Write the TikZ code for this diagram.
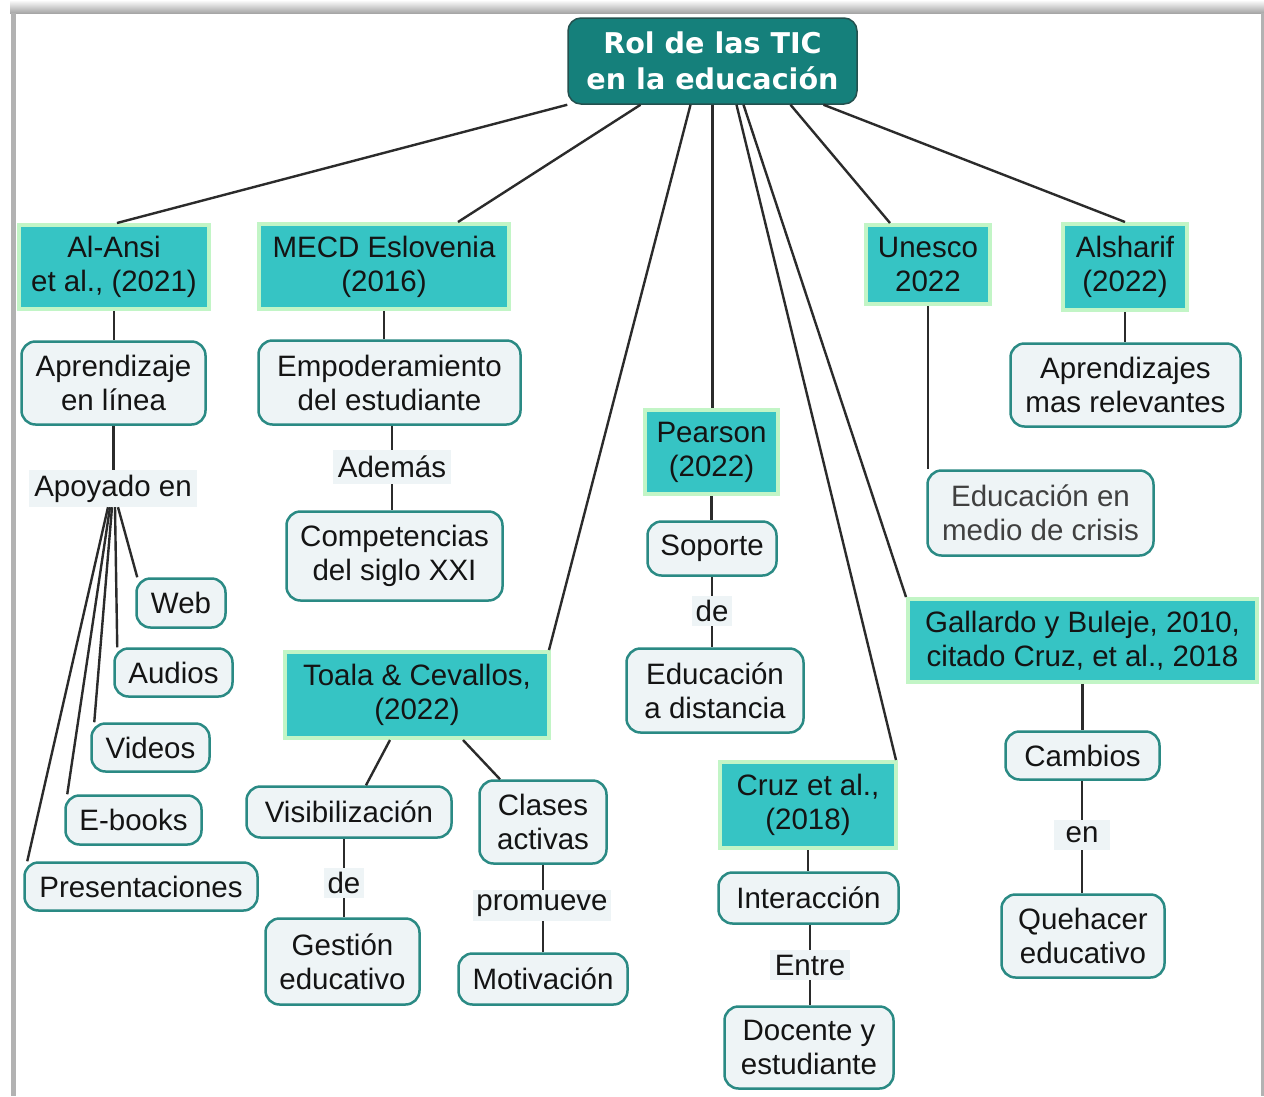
\documentclass[tikz,border=0pt]{standalone}
\usepackage{fontspec}
\setmainfont{Liberation Sans}
\newfontfamily\rootfont{DejaVu Sans}
\usetikzlibrary{calc}
\definecolor{rootfill}{HTML}{15807B}
\definecolor{rootdraw}{HTML}{24504E}
\definecolor{reffill}{HTML}{36C4C4}
\definecolor{refdraw}{HTML}{C2F5C6}
\definecolor{confill}{HTML}{EEF4F6}
\definecolor{condraw}{HTML}{2A8A84}
\definecolor{labfill}{HTML}{EEF4F6}
\definecolor{linec}{HTML}{2B2B2B}
\definecolor{txt}{HTML}{141414}
\newcommand{\fs}{\fontsize{29.5}{34}\selectfont}
\tikzset{
  sz/.style 2 args={minimum width=#1, minimum height=#2},
  refbox/.style={draw=refdraw, line width=4pt, fill=reffill, font=\fs, text=txt, align=center, inner sep=2pt},
  conbox/.style={draw=condraw, line width=2.5pt, fill=confill, rounded corners=14pt, font=\fs, text=txt, align=center, inner sep=2pt},
  labbox/.style={fill=labfill, font=\fs, text=txt, inner sep=3pt},
  ln/.style={draw=linec, line width=2.4pt},
}
\begin{document}
\begin{tikzpicture}[x=1pt, y=-1pt]
\useasboundingbox (0,0) rectangle (1264,1096);
\fill[white] (0,0) rectangle (1264,1096);
% frame
\shade[top color=white, bottom color=black!35] (10,0) rectangle (1264,13);
\fill[black!30] (11,13) rectangle (16,1096);
\fill[black!30] (1261,13) rectangle (1264,1096);

% root
\node[draw=rootdraw, line width=1.5pt, fill=rootfill, rounded corners=13pt, sz={289}{86}, text=white, align=center, font=\rootfont\bfseries\fontsize{28.6}{36}\selectfont, inner sep=2pt] (root) at (712.5,61) {Rol de las TIC\\en la educación};

% reference boxes
\node[refbox, sz={190}{84}] (alansi) at (114,267) {Al-Ansi\\et al., (2021)};
\node[refbox, sz={250}{85}] (mecd) at (384,266.5) {MECD Eslovenia\\(2016)};
\node[refbox, sz={124}{79}] (unesco) at (928,264.5) {Unesco\\2022};
\node[refbox, sz={124}{86}] (alsharif) at (1125,267) {Alsharif\\(2022)};
\node[refbox, sz={133}{84}] (pearson) at (711.5,452) {Pearson\\(2022)};
\node[refbox, sz={264}{86}] (toala) at (417,695) {Toala \& Cevallos,\\(2022)};
\node[refbox, sz={176}{86}] (cruz) at (808,805) {Cruz et al.,\\(2018)};
\node[refbox, sz={349}{83}] (gallardo) at (1082.5,640.5) {Gallardo y Buleje, 2010,\\citado Cruz, et al., 2018};

% concept boxes
\node[conbox, sz={184}{83}] (aprend) at (113.5,383) {Aprendizaje\\en línea};
\node[conbox, sz={262}{84}] (empod) at (389.5,382.5) {Empoderamiento\\del estudiante};
\node[conbox, sz={216}{89}] (compet) at (394.5,556) {Competencias\\del siglo XXI};
\node[conbox, sz={89}{49}] (web) at (181,603) {Web};
\node[conbox, sz={118}{48}] (audios) at (173.5,672.5) {Audios};
\node[conbox, sz={118}{48}] (videos) at (150.5,747.5) {Videos};
\node[conbox, sz={136}{49}] (ebooks) at (133.5,820) {E-books};
\node[conbox, sz={233}{48}] (present) at (141,886.5) {Presentaciones};
\node[conbox, sz={205}{51}] (visib) at (349,812) {Visibilización};
\node[conbox, sz={154}{86}] (gestion) at (342.5,961.5) {Gestión\\educativo};
\node[conbox, sz={127}{83}] (clases) at (543,822) {Clases\\activas};
\node[conbox, sz={169}{51}] (motiv) at (543,979) {Motivación};
\node[conbox, sz={129}{54}] (soporte) at (712,548.5) {Soporte};
\node[conbox, sz={177}{84}] (edudist) at (715,690.5) {Educación\\a distancia};
\node[conbox, sz={180}{51}] (interac) at (808.5,898) {Interacción};
\node[conbox, sz={169}{82}] (docente) at (809,1047.5) {Docente y\\estudiante};
\node[conbox, sz={230}{83}] (aprendrel) at (1125.5,385) {Aprendizajes\\mas relevantes};
\node[conbox, sz={226}{85}, text=black!75] (crisis) at (1040.5,513) {Educación en\\medio de crisis};
\node[conbox, sz={154}{48}] (cambios) at (1082.5,755.5) {Cambios};
\node[conbox, sz={163}{83}] (quehacer) at (1083,936) {Quehacer\\educativo};

% link labels
\node[labbox, sz={168}{37}] (apoyado) at (113,488.5) {Apoyado en};
\node[labbox, sz={118}{34}] (ademas) at (392,467) {Además};
\node[labbox, sz={40}{30}] (de1) at (344,883) {de};
\node[labbox, sz={138}{31}] (promueve) at (542,905.5) {promueve};
\node[labbox, sz={40}{30}] (de2) at (712,611) {de};
\node[labbox, sz={80}{30}] (entre) at (810,965) {Entre};
\node[labbox, sz={56}{30}] (en) at (1082,835) {en};

% connectors from root
\draw[ln] (root.south west) -- ([xshift=3]alansi.north);
\draw[ln] ([xshift=-72]root.south) -- ([xshift=74]mecd.north);
\draw[ln] ([xshift=-22]root.south) -- ([xshift=-2]toala.north east);
\draw[ln] (root.south) -- (root.south |- pearson.north);
\draw[ln] ([xshift=24]root.south) -- ([xshift=-2]cruz.north east);
\draw[ln] ([xshift=31]root.south) -- (gallardo.north west);
\draw[ln] ([xshift=78]root.south) -- ([xshift=-38]unesco.north);
\draw[ln] ([xshift=111]root.south) -- (alsharif.north);

% Al-Ansi branch
\draw[ln] (alansi.south) -- (alansi.south |- aprend.north);
\draw[ln] (aprend.south) -- (aprend.south |- apoyado.north);
\draw[ln] ([xshift=5]apoyado.south) -- ([xshift=2]web.north west);
\draw[ln] ([xshift=2]apoyado.south) -- ([xshift=4]audios.north west);
\draw[ln] ([xshift=-1]apoyado.south) -- ([xshift=4]videos.north west);
\draw[ln] ([xshift=-3]apoyado.south) -- ([xshift=3]ebooks.north west);
\draw[ln] ([xshift=-5]apoyado.south) -- ([xshift=4]present.north west);

% MECD branch
\draw[ln] (mecd.south) -- (mecd.south |- empod.north);
\draw[ln] (ademas.north) -- (ademas.north |- empod.south);
\draw[ln] (ademas.south) -- (ademas.south |- compet.north);

% Toala branch
\draw[ln] ([xshift=-27]toala.south) -- ([xshift=17]visib.north);
\draw[ln] ([xshift=46]toala.south) -- ([xshift=-43]clases.north);
\draw[ln] (de1.north) -- (de1.north |- visib.south);
\draw[ln] (de1.south) -- (de1.south |- gestion.north);
\draw[ln] (clases.south) -- (clases.south |- promueve.north);
\draw[ln] (motiv.north) -- (motiv.north |- promueve.south);

% Pearson branch
\draw[ln] (pearson.south) -- (pearson.south |- soporte.north);
\draw[ln] (de2.north) -- (de2.north |- soporte.south);
\draw[ln] (de2.south) -- (de2.south |- edudist.north);

% Cruz branch
\draw[ln] (cruz.south) -- (cruz.south |- interac.north);
\draw[ln] (entre.north) -- (entre.north |- interac.south);
\draw[ln] (entre.south) -- (entre.south |- docente.north);

% Unesco / Alsharif / Gallardo
\draw[ln] (unesco.south) -- (unesco.south |- crisis.north);
\draw[ln] (alsharif.south) -- (alsharif.south |- aprendrel.north);
\draw[ln] (gallardo.south) -- (gallardo.south |- cambios.north);
\draw[ln] (en.north) -- (en.north |- cambios.south);
\draw[ln] (en.south) -- (en.south |- quehacer.north);
\end{tikzpicture}
\end{document}
